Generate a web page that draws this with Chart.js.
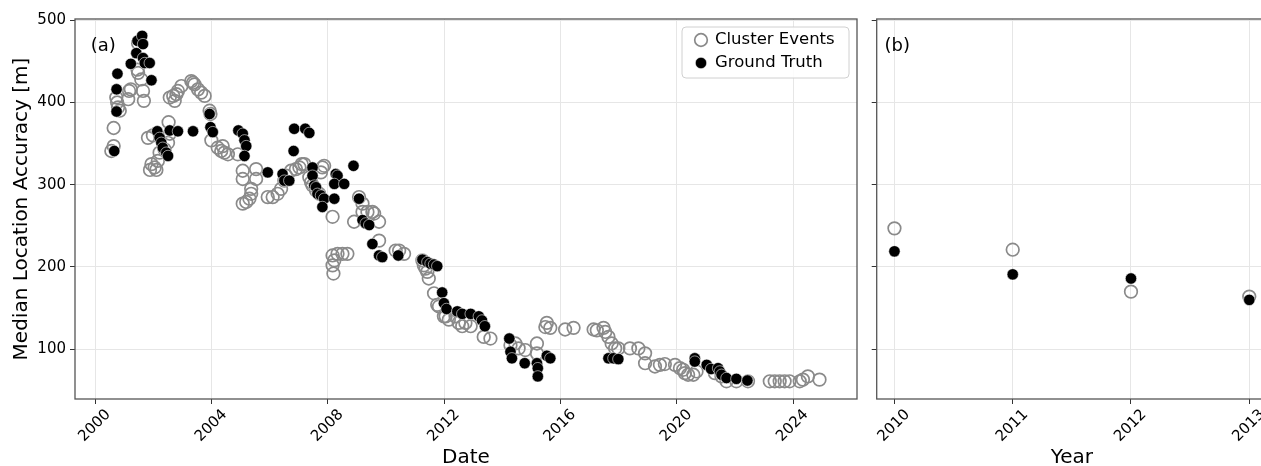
<!DOCTYPE html>
<html><head><meta charset="utf-8">
<script src="https://cdn.jsdelivr.net/npm/chart.js@4"></script>
<style>
html,body{margin:0;padding:0;overflow:hidden;background:#fff;width:1261px;height:466px;position:relative}
canvas{position:absolute;top:0}
#ca{left:0}
#cb{left:865px}
</style></head><body>
<canvas id="ca" width="865" height="466"></canvas>
<canvas id="cb" width="420" height="466"></canvas>
<script>
// ---- Data ----
const clusterDates = [2000.55,2000.63,2000.63,2000.72,2000.75,2000.78,2000.84,2001.13,2001.16,2001.22,2001.45,2001.47,2001.47,2001.58,2001.64,2001.67,2001.81,2001.98,
2001.88,2001.93,2002.04,2002.10,2002.15,2002.21,2002.38,2002.50,2002.56,2002.52,
2002.56,2002.68,2002.73,2002.79,2002.84,2002.96,2003.30,2003.36,2003.41,2003.53,2003.64,2003.76,2003.93,2003.96,2003.99,
2004.21,2004.33,2004.44,2004.56,2004.38,2004.90,2005.07,2005.07,2005.53,2005.53,2005.36,2005.36,2005.30,2005.19,2005.07,
2005.93,2006.10,2006.27,2006.39,2006.50,2006.56,2006.73,2006.90,2007.02,2007.10,2007.19,
2007.36,2007.42,2007.47,2007.59,2007.70,2007.81,2007.76,2007.87,2008.16,
2008.16,2008.22,2008.16,2008.19,2008.33,2008.50,2008.67,2008.90,
2009.07,2009.19,2009.19,2009.36,2009.53,2009.59,2009.76,2009.76,2010.33,2010.45,2010.62,
2011.25,2011.30,2011.36,2011.42,2011.47,2011.65,2011.76,2011.82,2011.99,2012.05,2012.16,2012.39,2012.50,2012.62,2012.73,2012.91,2013.36,2013.59,
2014.28,2014.45,2014.56,2014.79,2015.19,2015.19,2015.48,2015.53,2015.65,2016.16,2016.45,
2017.14,2017.25,2017.48,2017.54,2017.65,2017.76,2017.88,2017.99,2018.39,2018.68,2018.91,2018.91,
2019.25,2019.42,2019.59,2019.94,2020.11,2020.22,2020.28,2020.39,2020.57,2020.68,
2021.31,2021.54,2021.71,2022.05,2022.45,
2023.20,2023.37,2023.54,2023.71,2023.88,2024.23,2024.34,2024.51,2024.91];
const clusterValues = [341,347,369,406,400,394,390,404,414,416,440,436,472,428,414,402,357,360,
318,325,321,318,329,339,343,351,362,376,
406,408,402,410,414,420,426,424,422,416,412,408,390,386,354,
345,341,339,337,347,337,317,307,319,307,295,289,283,279,277,
285,285,289,295,305,311,317,319,321,325,325,
309,303,299,293,289,321,315,323,261,
214,208,202,192,216,216,216,255,
285,277,267,267,267,265,255,232,220,220,216,
208,202,198,194,186,168,154,152,140,140,136,140,132,128,132,128,115,113,
105,107,101,99,107,95,127,132,126,124,126,
124,123,126,121,115,107,101,101,101,101,95,83,
79,81,82,81,77,75,71,69,69,73,
71,67,61,61,61,
61,61,61,61,61,61,63,67,63];

const truthDates = [2000.65,2000.73,2000.73,2000.76,2001.22,2001.41,2001.45,2001.61,2001.64,2001.64,2001.70,2001.87,2001.93,
2002.13,2002.21,2002.27,2002.32,2002.44,2002.50,2002.56,2002.84,2003.36,2003.93,2003.96,2004.04,
2004.92,2005.07,2005.13,2005.19,2005.13,2005.93,2006.44,2006.50,2006.67,2006.84,2007.22,2007.36,2006.82,
2007.47,2007.47,2007.53,2007.59,2007.64,2007.76,2007.87,2007.81,
2008.27,2008.33,2008.22,2008.56,2008.22,2008.88,2009.07,2009.19,2009.30,2009.42,2009.53,2009.76,2009.87,2010.42,
2011.25,2011.42,2011.53,2011.65,2011.76,2011.93,2011.99,2012.08,
2012.45,2012.62,2012.91,2013.19,2013.30,2013.40,
2014.24,2014.28,2014.33,2014.77,2015.19,2015.22,2015.22,2015.53,2015.65,
2017.65,2017.82,2017.99,2020.62,2020.62,2021.03,2021.18,2021.42,2021.48,2021.54,2021.71,2022.05,2022.43];
const truthValues = [341,389,416,435,447,460,475,481,471,454,448,448,427,
365,357,351,345,339,335,366,365,365,386,370,364,
366,362,354,347,335,315,313,305,305,368,368,363,341,
321,311,299,297,289,287,283,273,
313,311,301,301,283,323,283,257,253,251,228,214,212,214,
209,206,204,203,201,169,156,149,
146,143,143,140,135,128,
113,97,89,83,83,77,67,92,89,
89,89,88,89,85,81,76,77,73,69,65,64,62];

const years = [2010,2011,2012,2013];
const clusterYearly = [247,221,170,164];
const truthYearly = [219,191,186,160];

const dateTicks = [2000,2004,2008,2012,2016,2020,2024];
const yTicks = [100,200,300,400,500];

// ---- Helpers ----
const FONT = '"DejaVu Sans", sans-serif';
const pts = (xs, ys) => xs.map((x, i) => ({x: x, y: ys[i]}));

const framePlugin = {
  id: 'frame',
  afterDraw(chart, args, opts) {
    const {ctx, chartArea: a} = chart;
    ctx.save();
    ctx.strokeStyle = '#555';
    ctx.lineWidth = 1.3;
    ctx.strokeRect(a.left, a.top, a.right - a.left, a.bottom - a.top);
    ctx.fillStyle = '#000';
    ctx.font = '18px ' + FONT;
    ctx.textBaseline = 'middle';
    ctx.textAlign = 'left';
    ctx.fillText(opts.label, a.left + (a.right - a.left) * 0.02, a.top + 27);
    if (opts.legend) {
      const w = 167, h = 51;
      const x0 = a.right - 8 - w, y0 = a.top + 8;
      ctx.beginPath();
      ctx.roundRect(x0, y0, w, h, 4);
      ctx.fillStyle = 'rgba(255,255,255,0.85)';
      ctx.fill();
      ctx.strokeStyle = '#d0d0d0';
      ctx.lineWidth = 1;
      ctx.stroke();
      const items = chart.data.datasets;
      items.forEach((ds, i) => {
        const cy = y0 + 13 + i * 23;
        const cx = x0 + 19;
        ctx.beginPath();
        ctx.arc(cx, cy, ds.pointRadius, 0, Math.PI * 2);
        ctx.fillStyle = ds.backgroundColor;
        ctx.fill();
        ctx.lineWidth = ds.borderWidth;
        ctx.strokeStyle = ds.borderColor;
        ctx.stroke();
        ctx.fillStyle = '#000';
        ctx.font = '16.5px ' + FONT;
        ctx.textBaseline = 'middle';
        ctx.fillText(ds.label, x0 + 33, cy);
      });
    }
    ctx.restore();
  }
};

function datasets(ceData, gtData) {
  return [
    {label: 'Cluster Events', data: ceData, order: 1, pointRadius: 6.3, pointHoverRadius: 6.3,
     backgroundColor: 'rgba(255,255,255,0)', borderColor: '#8a8a8a', borderWidth: 1.7, showLine: false},
    {label: 'Ground Truth', data: gtData, order: 0, pointRadius: 5.7, pointHoverRadius: 5.7,
     backgroundColor: '#000', borderColor: 'rgba(255,255,255,0.7)', borderWidth: 0.8, showLine: false}
  ];
}

function xScale(min, max, tickVals, title) {
  return {
    type: 'linear', min: min, max: max,
    afterBuildTicks: s => { s.ticks = tickVals.map(v => ({value: v})); },
    afterFit: s => { s.height = 67; },
    grid: {color: '#e6e6e6', lineWidth: 1, drawTicks: true, tickLength: 5, tickColor: '#333', tickWidth: 1},
    border: {display: false},
    ticks: {color: '#000', font: {family: FONT, size: 15}, maxRotation: 45, minRotation: 45,
            padding: 2, labelOffset: 13, autoSkip: false, callback: v => String(v)},
    title: {display: true, text: title, color: '#000', font: {family: FONT, size: 20}, padding: {top: 0, bottom: -4}}
  };
}

function yScale(showLabels, width) {
  return {
    type: 'linear', min: 39.5, max: 501.5,
    afterBuildTicks: s => { s.ticks = yTicks.map(v => ({value: v})); },
    afterFit: s => { s.width = width; },
    grid: {color: '#e6e6e6', lineWidth: 1, drawTicks: true, tickLength: 5, tickColor: '#333', tickWidth: 1},
    border: {display: false},
    ticks: {display: showLabels, color: '#000', font: {family: FONT, size: 15}, padding: 4, callback: v => String(v)},
    title: {display: showLabels, text: 'Median Location Accuracy [m]', color: '#000',
            font: {family: FONT, size: 20}, padding: {top: 10, bottom: 0}}
  };
}

const common = {
  responsive: false, animation: false, events: [],
  plugins: {legend: {display: false}, tooltip: {enabled: false}}
};

new Chart(document.getElementById('ca'), {
  type: 'scatter',
  data: {datasets: datasets(pts(clusterDates, clusterValues), pts(truthDates, truthValues))},
  options: Object.assign({}, common, {
    layout: {padding: {top: 19, right: 7, left: 0, bottom: 0}},
    scales: {x: xScale(1999.3, 2026.2, dateTicks, 'Date'), y: yScale(true, 75)},
    plugins: {legend: {display: false}, tooltip: {enabled: false}, frame: {label: '(a)', legend: true}}
  }),
  plugins: [framePlugin]
});

new Chart(document.getElementById('cb'), {
  type: 'scatter',
  data: {datasets: datasets(pts(years, clusterYearly), pts(years, truthYearly))},
  options: Object.assign({}, common, {
    layout: {padding: {top: 19, right: 18, left: 0, bottom: 0}},
    scales: {x: xScale(2009.85, 2013.15, years, 'Year'), y: yScale(false, 10)},
    plugins: {legend: {display: false}, tooltip: {enabled: false}, frame: {label: '(b)', legend: false}}
  }),
  plugins: [framePlugin]
});
</script>
</body></html>
